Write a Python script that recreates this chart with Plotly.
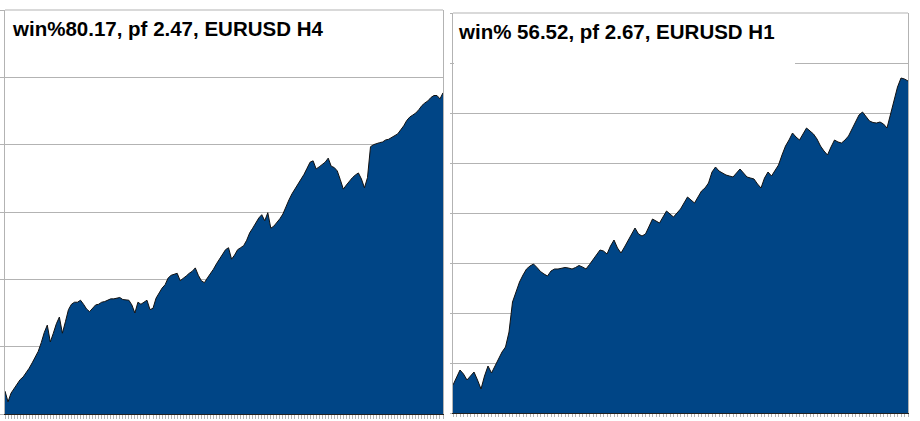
import plotly.graph_objects as go

W, H = 920, 421

# ---- data ----
title_h4 = "win%80.17, pf 2.47, EURUSD H4"
title_h1 = "win% 56.52, pf 2.67, EURUSD H1"

equity_h4 = [
    34, 18, 31, 38, 45, 51, 55, 61, 68, 76,
    85, 93, 106, 121, 132, 107, 120, 134, 144, 120,
    137, 155, 163, 166, 166, 169, 163, 156, 152, 157,
    162, 163, 166, 167, 169, 171, 171, 172, 173, 170,
    169, 169, 162, 150, 166, 163, 166, 169, 155, 157,
    172, 180, 187, 192, 202, 206, 208, 209, 198, 201,
    205, 209, 212, 217, 206, 198, 195, 202, 208, 215,
    223, 230, 238, 244, 247, 230, 236, 244, 247, 250,
    258, 269, 276, 284, 291, 296, 287, 299, 276, 279,
    284, 290, 297, 309, 318, 327, 334, 340, 348, 356,
    365, 374, 376, 364, 367, 370, 374, 380, 368, 366,
    361, 348, 334, 340, 346, 351, 355, 358, 349, 336,
    351, 397, 400, 402, 403, 404, 407, 408, 411, 413,
    416, 422, 428, 436, 441, 444, 447, 452, 458, 462,
    465, 470, 473, 473, 468, 477,
]

equity_h1 = [
    56, 72, 86, 78, 66, 74, 82, 66, 48, 74,
    94, 80, 94, 110, 122, 132, 162, 222, 244, 262,
    276, 288, 294, 298, 291, 283, 278, 274, 284, 288,
    288, 289, 291, 290, 288, 291, 295, 292, 288, 297,
    306, 316, 326, 324, 318, 334, 346, 330, 320, 332,
    344, 358, 370, 358, 354, 358, 372, 388, 384, 380,
    392, 404, 398, 392, 400, 408, 420, 432, 426, 420,
    432, 444, 450, 460, 482, 492, 484, 480, 476, 474,
    472, 480, 488, 480, 472, 470, 468, 458, 450, 470,
    482, 474, 484, 496, 516, 534, 546, 560, 552, 546,
    558, 570, 564, 558, 548, 534, 524, 516, 532, 546,
    542, 540, 546, 554, 568, 582, 596, 602, 592, 584,
    581, 580, 582, 578, 570, 598, 630, 652, 670, 668,
    664,
]

y_max_h4, y_step_h4 = 600, 100
y_max_h1, y_step_h1 = 800, 100

# ---- styling ----
FILL = "#004586"
GRID = "#b3b3b3"

def px_x(x):
    return x / W

def px_y(y):
    return (H - y) / H

left = dict(x0=5, x1=443, y0=10, y1=414)
right = dict(x0=453, x1=908, y0=13, y1=413)

fig = go.Figure()

fig.add_trace(go.Scatter(
    x=list(range(len(equity_h4))), y=equity_h4,
    mode="lines", fill="tozeroy", fillcolor=FILL,
    line=dict(color="#111111", width=1),
    xaxis="x", yaxis="y", hoverinfo="skip",
))
fig.add_trace(go.Scatter(
    x=list(range(len(equity_h1))), y=equity_h1,
    mode="lines", fill="tozeroy", fillcolor=FILL,
    line=dict(color="#111111", width=1),
    xaxis="x2", yaxis="y2", hoverinfo="skip",
))

def xaxis(box, n, ticklen):
    return dict(
        domain=[px_x(box["x0"]), px_x(box["x1"])],
        range=[0, n - 1], tickmode="linear", tick0=0, dtick=1,
        ticks="outside", ticklen=ticklen, tickcolor=GRID, tickwidth=1,
        showticklabels=False, showgrid=False, zeroline=False,
        showline=True, linecolor="#222222", linewidth=1,
        fixedrange=True,
    )

def yaxis(box, ymax, step, ticklen, anchor):
    return dict(
        domain=[px_y(box["y1"]), px_y(box["y0"])],
        range=[0, ymax], tickmode="linear", tick0=0, dtick=step,
        ticks="outside", ticklen=ticklen, tickcolor=GRID, tickwidth=1,
        showticklabels=False, showgrid=True, gridcolor=GRID, gridwidth=1,
        zeroline=False, showline=True, linecolor=GRID, linewidth=1,
        mirror=True, anchor=anchor, fixedrange=True,
    )

fig.update_layout(
    width=W, height=H,
    margin=dict(l=0, r=0, t=0, b=0),
    paper_bgcolor="white", plot_bgcolor="white",
    showlegend=False,
    xaxis=xaxis(left, len(equity_h4), 4),
    yaxis=yaxis(left, y_max_h4, y_step_h4, 5, "x"),
    xaxis2=dict(xaxis(right, len(equity_h1), 3), anchor="y2"),
    yaxis2=yaxis(right, y_max_h1, y_step_h1, 2, "x2"),
)
fig.layout.xaxis.anchor = "y"

shapes = []
# top borders of plot areas
for b in (left, right):
    shapes.append(dict(type="line", xref="paper", yref="paper",
                       x0=px_x(b["x0"]), x1=px_x(b["x1"]),
                       y0=px_y(b["y0"]), y1=px_y(b["y0"]),
                       line=dict(color=GRID, width=1), layer="above"))
# white title box in the right panel hiding the gridline
shapes.append(dict(type="rect", xref="paper", yref="paper",
                   x0=px_x(454), x1=px_x(795), y0=px_y(68), y1=px_y(14),
                   fillcolor="white", line=dict(width=0), layer="above"))
fig.update_layout(shapes=shapes)

font = dict(family="Liberation Sans, Arial, sans-serif", size=20.5, color="black")
fig.add_annotation(text="<b>" + title_h4 + "</b>", xref="paper", yref="paper",
                   x=px_x(10), y=px_y(28.7), xanchor="left", yanchor="middle",
                   showarrow=False, font=font)
fig.add_annotation(text="<b>" + title_h1 + "</b>", xref="paper", yref="paper",
                   x=px_x(455.5), y=px_y(31.7), xanchor="left", yanchor="middle",
                   showarrow=False, font=font)

fig.write_html(
    "out.html",
    config={"displayModeBar": False},
    post_script="document.body.style.margin='0px';document.body.style.overflow='hidden';",
)
